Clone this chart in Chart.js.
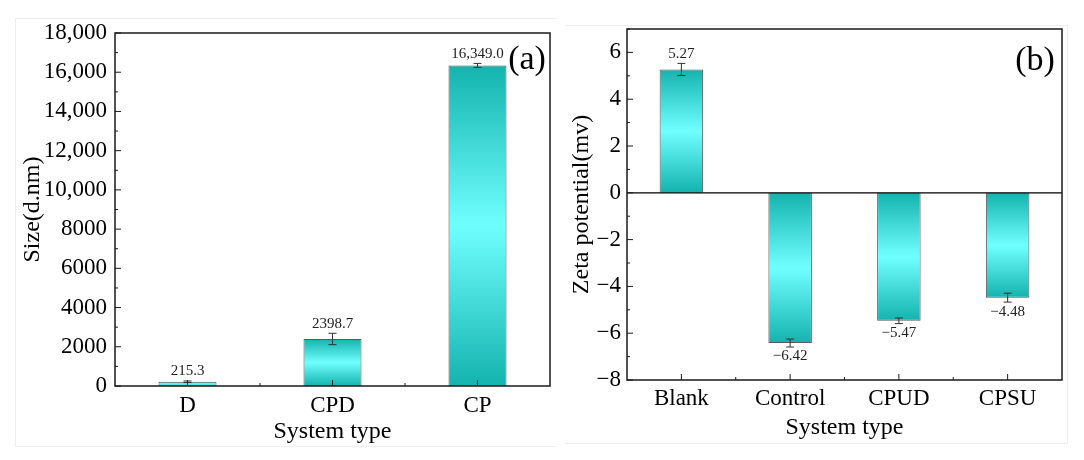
<!DOCTYPE html>
<html>
<head>
<meta charset="utf-8">
<script src="https://cdn.jsdelivr.net/npm/chart.js@4.4.0/dist/chart.umd.min.js"></script>
<style>
  body { margin: 0; background: #fff; }
  #wrap { position: relative; width: 1084px; height: 460px; overflow: hidden; }
  canvas { position: absolute; top: 0; }
  .frame { position: absolute; border: 1px solid #eeeeee; }
</style>
</head>
<body>
<div id="wrap">
  <div class="frame" style="left:15px;top:18px;width:540px;height:427px;border-right:none"></div>
  <div class="frame" style="left:565px;top:25px;width:502px;height:417px;border-left:none"></div>
  <canvas id="sizeChart" width="560" height="460" style="left:0"></canvas>
  <canvas id="zetaChart" width="524" height="460" style="left:560px"></canvas>
</div>
<script>
// (a) particle size
const sizeCategories = ['D', 'CPD', 'CP'];
const sizeValues = [215.3, 2398.7, 16349.0];
const sizeErrors = [40, 290, 100];
const sizeTicks = [0, 2000, 4000, 6000, 8000, 10000, 12000, 14000, 16000, 18000];

// (b) zeta potential
const zetaCategories = ['Blank', 'Control', 'CPUD', 'CPSU'];
const zetaValues = [5.27, -6.42, -5.47, -4.48];
const zetaErrors = [0.26, 0.17, 0.12, 0.19];
const zetaTicks = [-8, -6, -4, -2, 0, 2, 4, 6];

const SERIF = '"Liberation Serif", "DejaVu Serif", serif';
const MINUS = '\u2212';

function fmtSize(v, digits) {
    if (Math.abs(v) >= 10000) {
        return v.toLocaleString('en-US', { minimumFractionDigits: digits, maximumFractionDigits: digits });
    }
    return v.toFixed(digits);
}
function fmtSigned(v, digits) {
    const s = Math.abs(v).toFixed(digits);
    return v < 0 ? MINUS + s : s;
}

function barGradient(c) {
    const chart = c.chart;
    const y = chart.scales.y;
    if (!y || c.type !== 'data' || !c.parsed) return '#40dcdc';
    const p0 = y.getPixelForValue(0);
    const p1 = y.getPixelForValue(c.parsed.y);
    if (!isFinite(p0) || !isFinite(p1) || p0 === p1) return '#40dcdc';
    const g = chart.ctx.createLinearGradient(0, p1, 0, p0);
    g.addColorStop(0, '#14b3ae');
    g.addColorStop(0.5, '#70ffff');
    g.addColorStop(1, '#14b3ae');
    return g;
}

// frame, inward ticks, error bars, value labels and panel letter
const decorPlugin = {
    id: 'decor',
    afterDatasetsDraw(chart, args, opts) {
        const { ctx, chartArea: a, scales } = chart;
        const xs = scales.x, ys = scales.y;
        ctx.save();

        // zero line
        if (opts.zeroLine) {
            const z = ys.getPixelForValue(0);
            ctx.strokeStyle = '#000';
            ctx.lineWidth = 1.2;
            ctx.beginPath();
            ctx.moveTo(a.left, z);
            ctx.lineTo(a.right, z);
            ctx.stroke();
        }

        // error bars + value labels
        const meta = chart.getDatasetMeta(0);
        const values = chart.data.datasets[0].data;
        ctx.strokeStyle = '#333';
        ctx.lineWidth = 1;
        ctx.fillStyle = '#222';
        ctx.font = '15px ' + SERIF;
        ctx.textAlign = 'center';
        meta.data.forEach((bar, i) => {
            const v = values[i];
            const e = opts.errors[i];
            const yt = ys.getPixelForValue(v + e);
            const yb = ys.getPixelForValue(v - e);
            const cx = bar.x;
            ctx.beginPath();
            ctx.moveTo(cx, yt); ctx.lineTo(cx, yb);
            ctx.moveTo(cx - 4, yt); ctx.lineTo(cx + 4, yt);
            ctx.moveTo(cx - 4, yb); ctx.lineTo(cx + 4, yb);
            ctx.stroke();
            const label = opts.format(v);
            if (v >= 0) {
                ctx.textBaseline = 'bottom';
                ctx.fillText(label, cx, yt - 2);
            } else {
                ctx.textBaseline = 'top';
                ctx.fillText(label, cx, yb + 2);
            }
        });

        // frame
        ctx.strokeStyle = '#1a1a1a';
        ctx.lineWidth = 1.5;
        ctx.strokeRect(a.left, a.top, a.right - a.left, a.bottom - a.top);

        // y ticks (major + minor, inward)
        ctx.lineWidth = 1;
        ctx.beginPath();
        const yt = opts.yTicks;
        for (let k = 0; k < yt.length; k++) {
            const p = ys.getPixelForValue(yt[k]);
            ctx.moveTo(a.left, p); ctx.lineTo(a.left + 6, p);
            if (k < yt.length - 1) {
                const pm = ys.getPixelForValue((yt[k] + yt[k + 1]) / 2);
                ctx.moveTo(a.left, pm); ctx.lineTo(a.left + 3, pm);
            }
        }
        if (opts.extraMinor !== undefined) {
            const pm = ys.getPixelForValue(opts.extraMinor);
            ctx.moveTo(a.left, pm); ctx.lineTo(a.left + 3, pm);
        }
        // x ticks (major at categories, minor between)
        const n = chart.data.labels.length;
        for (let i = 0; i < n; i++) {
            const p = xs.getPixelForValue(i);
            ctx.moveTo(p, a.bottom); ctx.lineTo(p, a.bottom - 6);
            if (i < n - 1) {
                const pm = xs.getPixelForValue(i + 0.5);
                ctx.moveTo(pm, a.bottom); ctx.lineTo(pm, a.bottom - 3);
            }
        }
        ctx.stroke();

        // panel letter
        ctx.fillStyle = '#000';
        ctx.font = '34px ' + SERIF;
        ctx.textAlign = 'center';
        ctx.textBaseline = 'middle';
        ctx.fillText(opts.letter, a.right - opts.letterDx, a.top + opts.letterDy);
        ctx.restore();
    }
};

function axisFont(size) {
    return { family: SERIF, size: size };
}

const sizeChart = new Chart(document.getElementById('sizeChart').getContext('2d'), {
    type: 'bar',
    data: {
        labels: sizeCategories,
        datasets: [{
            data: sizeValues,
            backgroundColor: barGradient,
            borderColor: '#5a5a5a',
            borderWidth: 1,
            barPercentage: 0.4,
            categoryPercentage: 1.0
        }]
    },
    options: {
        responsive: false,
        animation: false,
        layout: { padding: { left: 0, right: 10, top: 33, bottom: 0 } },
        plugins: {
            legend: { display: false },
            tooltip: { enabled: false },
            decor: {
                errors: sizeErrors,
                yTicks: sizeTicks,
                format: v => fmtSize(v, 1),
                letter: '(a)',
                letterDx: 23,
                letterDy: 27
            }
        },
        scales: {
            x: {
                grid: { display: false, drawTicks: false },
                border: { display: false },
                ticks: { font: axisFont(23), color: '#000', padding: 6 },
                title: { display: true, text: 'System type', font: axisFont(24), color: '#000', padding: { top: 0, bottom: 14 } },
                afterFit: s => { s.height = 74; }
            },
            y: {
                min: 0,
                max: 18000,
                grid: { display: false, drawTicks: false },
                border: { display: false },
                afterBuildTicks: s => { s.ticks = sizeTicks.map(v => ({ value: v })); },
                ticks: { font: axisFont(23), color: '#000', padding: 8, callback: v => fmtSize(v, 0) },
                title: { display: true, text: 'Size(d.nm)', font: axisFont(24), color: '#000', padding: { top: 18, bottom: 0 } },
                afterFit: s => { s.width = 115; }
            }
        }
    },
    plugins: [decorPlugin]
});

const zetaChart = new Chart(document.getElementById('zetaChart').getContext('2d'), {
    type: 'bar',
    data: {
        labels: zetaCategories,
        datasets: [{
            data: zetaValues,
            backgroundColor: barGradient,
            borderColor: '#5a5a5a',
            borderWidth: 1,
            barPercentage: 0.4,
            categoryPercentage: 1.0
        }]
    },
    options: {
        responsive: false,
        animation: false,
        layout: { padding: { left: 0, right: 22, top: 29, bottom: 0 } },
        plugins: {
            legend: { display: false },
            tooltip: { enabled: false },
            decor: {
                errors: zetaErrors,
                yTicks: zetaTicks,
                extraMinor: 7,
                zeroLine: true,
                format: v => fmtSigned(v, 2),
                letter: '(b)',
                letterDx: 27,
                letterDy: 32
            }
        },
        scales: {
            x: {
                grid: { display: false, drawTicks: false },
                border: { display: false },
                ticks: { font: axisFont(23), color: '#000', padding: 5 },
                title: { display: true, text: 'System type', font: axisFont(24), color: '#000', padding: { top: 0, bottom: 18 } },
                afterFit: s => { s.height = 80; }
            },
            y: {
                min: -8,
                max: 7,
                grid: { display: false, drawTicks: false },
                border: { display: false },
                afterBuildTicks: s => { s.ticks = zetaTicks.map(v => ({ value: v })); },
                ticks: { font: axisFont(23), color: '#000', padding: 6, callback: v => fmtSigned(v, 0) },
                title: { display: true, text: 'Zeta potential(mv)', font: axisFont(24), color: '#000', padding: { top: 7, bottom: 0 } },
                afterFit: s => { s.width = 67; }
            }
        }
    },
    plugins: [decorPlugin]
});
</script>
</body>
</html>
